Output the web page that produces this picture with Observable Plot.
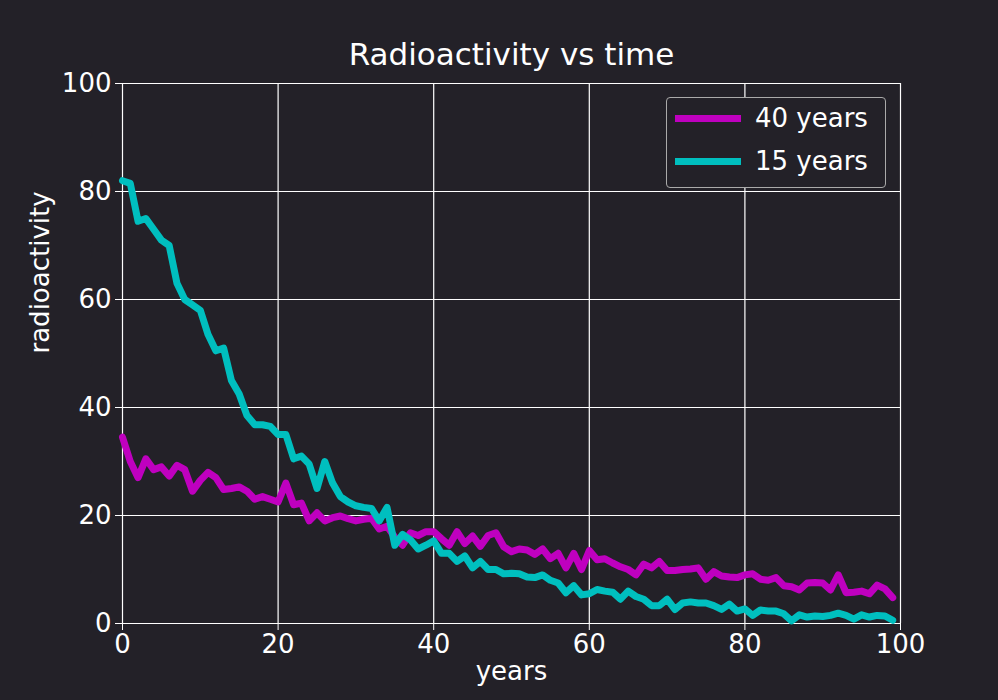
<!DOCTYPE html>
<html><head><meta charset="utf-8">
<script src="https://cdn.jsdelivr.net/npm/d3@7"></script>
<script src="https://cdn.jsdelivr.net/npm/@observablehq/plot@0.6"></script>
<style>
body{margin:0;background:#232128;font-family:"DejaVu Sans",sans-serif;}
#wrap{position:relative;width:998px;height:700px;}
#legend{position:absolute;left:666px;top:97px;width:220px;height:91px;border:1px solid #aaa;border-radius:4px;background:#232128;color:#fff;font-size:26px;box-sizing:border-box;}
.item{position:absolute;left:8px;display:flex;align-items:center;}
.sw{width:66px;height:7px;margin-right:14px;}
</style></head><body>
<div id="wrap"><div id="chart"></div>
<div id="legend">
<div class="item" style="top:5px"><div class="sw" style="background:#bf00bf"></div>40 years</div>
<div class="item" style="top:48px"><div class="sw" style="background:#00bfbf"></div>15 years</div>
</div></div>
<script>
const years = d3.range(100);
const series40 = [34.5,30,27,30.5,28.5,29,27.3,29.3,28.5,24.5,26.5,28,27,24.8,25,25.3,24.5,23,23.5,23,22.5,26,22,22.3,19,20.5,19,19.6,19.9,19.4,19,19.3,19.5,17.5,18,16,14.5,16.8,16.3,17,17,15.7,14.5,17,14.8,16.2,14.3,16.3,16.8,14.2,13.3,13.8,13.6,12.8,13.8,12,13,10.3,13,10,13.5,11.8,12,11.2,10.5,10,9,11,10.3,11.5,9.8,9.8,10,10.1,10.3,8.2,9.6,8.8,8.6,8.5,9,9.2,8.2,8,8.5,7,6.8,6.2,7.5,7.6,7.5,6.2,9,5.7,5.8,6,5.5,7.1,6.4,4.8];
const series15 = [82,81.5,74.5,75,73,71,70,63,60,59,58,53.5,50.5,51,45,42.5,38.5,36.8,36.8,36.5,35,35,30.5,31,29.5,25,30,26,23.5,22.5,21.8,21.5,21.3,19,21.5,14.5,16.5,15.5,13.8,14.5,15.3,13,13,11.5,12.5,10.3,11.5,10,10,9.2,9.3,9.2,8.6,8.5,9,8,7.5,5.7,7,5.3,5.5,6.3,6,5.8,4.5,6,5,4.5,3.3,3.3,4.5,2.6,3.8,4,3.8,3.8,3.3,2.6,3.6,2.3,2.7,1.5,2.5,2.3,2.3,1.8,0.5,1.6,1.2,1.4,1.3,1.5,1.9,1.5,0.8,1.6,1.2,1.5,1.4,0.6];
const ticks = [0,20,40,60,80,100];
const d40 = years.map((x,i)=>({x,y:series40[i]}));
const d15 = years.map((x,i)=>({x,y:series15[i]}));
const plot = Plot.plot({
  width:998, height:700, marginLeft:122, marginRight:98, marginTop:83, marginBottom:77,
  style:{background:"#232128", color:"#fff", fontSize:"26px", fontFamily:"DejaVu Sans"},
  x:{domain:[0,100], ticks, label:null},
  y:{domain:[0,100], ticks, label:null},
  marks:[
    Plot.gridX(ticks,{stroke:"#fff",strokeOpacity:1,strokeWidth:1.2}),
    Plot.gridY(ticks,{stroke:"#fff",strokeOpacity:1,strokeWidth:1.2}),
    Plot.frame({stroke:"#fff"}),
    Plot.axisX({ticks, tickSize:7, tickPadding:4, label:null, fontSize:26}),
    Plot.axisY({ticks, tickSize:7, tickPadding:4, label:null, fontSize:26}),
    Plot.line(d40,{x:"x",y:"y",stroke:"#bf00bf",strokeWidth:7}),
    Plot.line(d15,{x:"x",y:"y",stroke:"#00bfbf",strokeWidth:7}),
    Plot.text(["Radioactivity vs time"],{frameAnchor:"top",dy:-19,lineAnchor:"bottom",fill:"#fff",fontSize:31}),
    Plot.text(["years"],{frameAnchor:"bottom",dy:56,fill:"#fff",fontSize:26}),
    Plot.text(["radioactivity"],{frameAnchor:"left",dx:-82,rotate:-90,fill:"#fff",fontSize:26})
  ]
});
document.getElementById("chart").append(plot);
</script></body></html>
